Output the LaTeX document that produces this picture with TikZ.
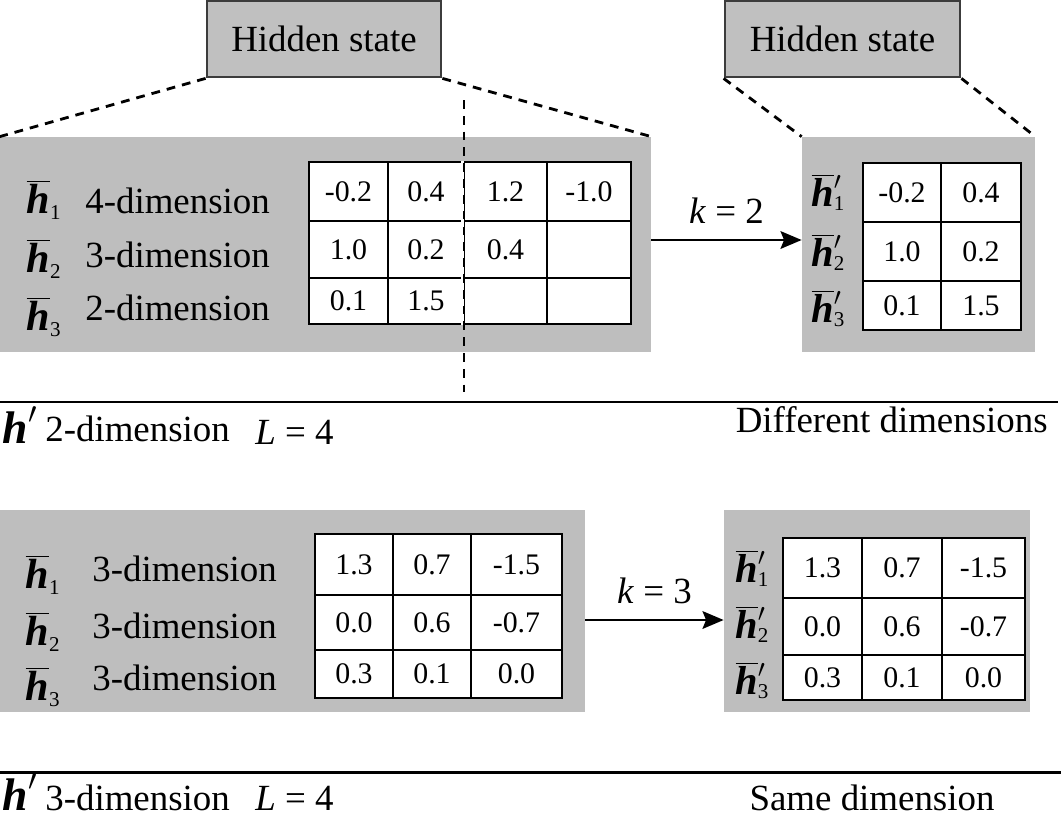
\documentclass[tikz,border=0pt]{standalone}
\usepackage{fontspec}
\setmainfont{Liberation Serif}
\usetikzlibrary{arrows.meta,fit}

\definecolor{panelgray}{HTML}{BEBEBE}
\definecolor{boxgray}{HTML}{C0C0C0}
\definecolor{edgegray}{HTML}{3C3C3C}

% bold h with bar, index and prime
\newcommand{\hb}[1]{$\overline{\mbox{\bfseries\itshape h}}_{\mbox{\fontsize{12}{12}\selectfont #1}}$}
\newcommand{\hbp}[1]{$\overline{\mbox{\bfseries\itshape h}}$\rlap{\raisebox{0.42em}{\fontsize{15}{15}\selectfont$\prime$}}\raisebox{-0.12em}{\fontsize{12}{12}\selectfont #1}}
\newcommand{\hp}{$\mbox{\bfseries\itshape h}^{\prime}$}

\tikzset{
  panel/.style={fill=panelgray, inner sep=0pt},
  statebox/.style={fill=boxgray, draw=edgegray, line width=1.6pt, inner sep=0pt,
    label={[inner sep=0pt, font=\fontsize{21}{24}\selectfont]center:#1}},
  cell/.style={draw, fill=white, line width=1.6pt, inner sep=0pt,
    label={[inner sep=0pt, font=\fontsize{17}{19}\selectfont]center:#1}},
  dimtext/.style={anchor=base west, inner sep=0pt, font=\fontsize{21}{24}\selectfont},
  hlabel/.style={anchor=base, inner sep=0pt, font=\fontsize{24}{26}\selectfont},
  hplabel/.style={anchor=base, inner sep=0pt, font=\fontsize{23}{25}\selectfont},
  zoomline/.style={line width=1.6pt, dash pattern=on 5pt off 4pt},
  flow/.style={-{Stealth[length=12pt,width=10pt,inset=2pt]}, line width=1.6pt},
  sepline/.style={line width=1.7pt},
  note/.style={anchor=base west, inner sep=0pt, font=\fontsize{21}{24}\selectfont}
}

\begin{document}
\begin{tikzpicture}[x=0.02cm, y=-0.02cm]
	\useasboundingbox (0,0) rectangle (1061,818);

	% hidden state boxes
	\node[statebox=Hidden state, fit={(207,1) (441,77)}] (stateA) {};
	\node[statebox=Hidden state, fit={(725,1) (960,77)}] (stateB) {};

	% gray panels
	\node[panel, fit={(0,137) (651,352)}] (pnlA) {};
	\node[panel, fit={(802,137) (1035,352)}] (pnlB) {};
	\node[panel, fit={(0,510) (585,712)}] (pnlC) {};
	\node[panel, fit={(724,510) (1030,712)}] (pnlD) {};

	\draw[zoomline] (stateA.south west) -- (pnlA.north west);
	\draw[zoomline] (stateA.south east) -- (pnlA.north east);
	\draw[zoomline] (stateB.south west) -- (pnlB.north west);
	\draw[zoomline] (stateB.south east) -- (pnlB.north east);

	% table A
	\foreach \xa/\xb/\v [count=\c] in {309/388/-0.2, 388/464/0.4, 464/547/1.2, 547/631/-1.0}
		\node[cell=\v, fit={(\xa,162) (\xb,221)}] (tA-1-\c) {};
	\foreach \xa/\xb/\v [count=\c] in {309/388/1.0, 388/464/0.2, 464/547/0.4, 547/631/{}}
		\node[cell=\v, fit={(\xa,221) (\xb,278)}] (tA-2-\c) {};
	\foreach \xa/\xb/\v [count=\c] in {309/388/0.1, 388/464/1.5, 464/547/{}, 547/631/{}}
		\node[cell=\v, fit={(\xa,278) (\xb,324)}] (tA-3-\c) {};

	% table B
	\foreach \xa/\xb/\v [count=\c] in {863/941/-0.2, 941/1021/0.4}
		\node[cell=\v, fit={(\xa,163) (\xb,222)}] (tB-1-\c) {};
	\foreach \xa/\xb/\v [count=\c] in {863/941/1.0, 941/1021/0.2}
		\node[cell=\v, fit={(\xa,222) (\xb,281)}] (tB-2-\c) {};
	\foreach \xa/\xb/\v [count=\c] in {863/941/0.1, 941/1021/1.5}
		\node[cell=\v, fit={(\xa,281) (\xb,330)}] (tB-3-\c) {};

	% table C
	\foreach \xa/\xb/\v [count=\c] in {315/393/1.3, 393/471/0.7, 471/562/-1.5}
		\node[cell=\v, fit={(\xa,534) (\xb,595)}] (tC-1-\c) {};
	\foreach \xa/\xb/\v [count=\c] in {315/393/0.0, 393/471/0.6, 471/562/-0.7}
		\node[cell=\v, fit={(\xa,595) (\xb,650)}] (tC-2-\c) {};
	\foreach \xa/\xb/\v [count=\c] in {315/393/0.3, 393/471/0.1, 471/562/0.0}
		\node[cell=\v, fit={(\xa,650) (\xb,698)}] (tC-3-\c) {};

	% table D
	\foreach \xa/\xb/\v [count=\c] in {783/862/1.3, 862/942/0.7, 942/1025/-1.5}
		\node[cell=\v, fit={(\xa,538) (\xb,598)}] (tD-1-\c) {};
	\foreach \xa/\xb/\v [count=\c] in {783/862/0.0, 862/942/0.6, 942/1025/-0.7}
		\node[cell=\v, fit={(\xa,598) (\xb,655)}] (tD-2-\c) {};
	\foreach \xa/\xb/\v [count=\c] in {783/862/0.3, 862/942/0.1, 942/1025/0.0}
		\node[cell=\v, fit={(\xa,655) (\xb,700)}] (tD-3-\c) {};

	% cut line
	\coordinate (cutTop) at (464,100);
	\coordinate (cutBot) at (464,392);
	\draw[white, line width=1.6pt] (tA-1-3.north west) -- (tA-3-3.south west);
	\draw[zoomline] (cutTop) -- (cutBot);

	% row labels
	\node[hlabel] (hA1) at (44,213) {\hb{1}};
	\node[hlabel] (hA2) at (44,272) {\hb{2}};
	\node[hlabel] (hA3) at (44,330) {\hb{3}};
	\node[dimtext] (dA1) at (85,213) {4-dimension};
	\node[dimtext] (dA2) at (85,267) {3-dimension};
	\node[dimtext] (dA3) at (85,320) {2-dimension};

	\node[hplabel] (hB1) at (828,206) {\hbp{1}};
	\node[hplabel] (hB2) at (828,266) {\hbp{2}};
	\node[hplabel] (hB3) at (828,322) {\hbp{3}};

	\node[hlabel] (hC1) at (43,588) {\hb{1}};
	\node[hlabel] (hC2) at (43,645) {\hb{2}};
	\node[hlabel] (hC3) at (43,700) {\hb{3}};
	\node[dimtext] (dC1) at (92,581) {3-dimension};
	\node[dimtext] (dC2) at (92,638) {3-dimension};
	\node[dimtext] (dC3) at (92,690) {3-dimension};

	\node[hplabel] (hD1) at (752,582) {\hbp{1}};
	\node[hplabel] (hD2) at (752,638) {\hbp{2}};
	\node[hplabel] (hD3) at (752,694) {\hbp{3}};

	% arrows
	\draw[flow] ([yshift=0.09cm]pnlA.east) -- ([yshift=0.09cm]pnlB.west)
		node[midway, above=5pt, font=\fontsize{21}{24}\selectfont] {\textit{k} = 2};
	\draw[flow] ([yshift=-0.18cm]pnlC.east) -- ([yshift=-0.18cm]pnlD.west)
		node[midway, above=5pt, font=\fontsize{21}{24}\selectfont] {\textit{k} = 3};

	% separators and notes
	\coordinate (sepA-l) at (0,402);
	\coordinate (sepA-r) at (1058,402);
	\draw[sepline] (sepA-l) -- (sepA-r);
	\node[hlabel, font=\fontsize{26}{28}\selectfont] (hpA) at (20,443) {\hp};
	\node[note] (dimA) at (45,441) {2-dimension};
	\node[note] (lenA) at (255,444) {\textit{L} = 4};
	\node[note, anchor=base east] (kindA) at (1048,432) {Different dimensions};

	\coordinate (sepB-l) at (0,772);
	\coordinate (sepB-r) at (1061,772);
	\draw[sepline] (sepB-l) -- (sepB-r);
	\node[hlabel, font=\fontsize{26}{28}\selectfont] (hpB) at (20,810) {\hp};
	\node[note] (dimB) at (45,810) {3-dimension};
	\node[note] (lenB) at (255,810) {\textit{L} = 4};
	\node[note, anchor=base] (kindB) at (872,810) {Same dimension};
\end{tikzpicture}
\end{document}
